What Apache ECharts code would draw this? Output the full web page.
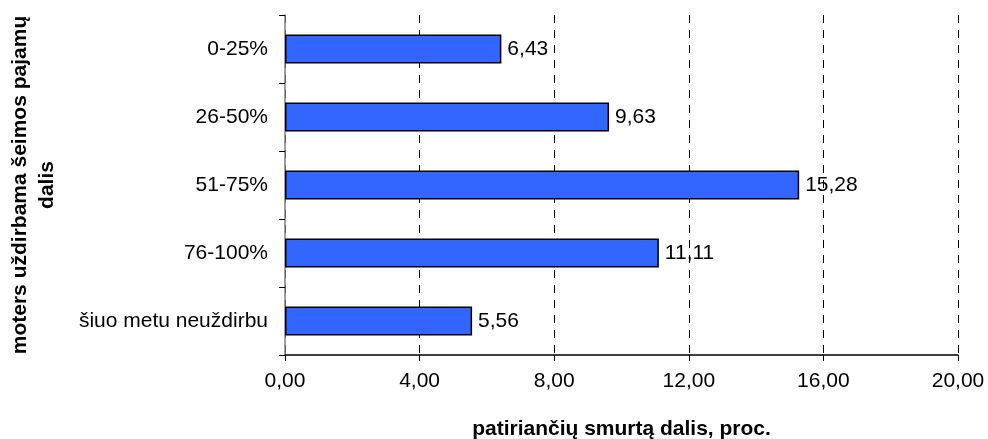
<!DOCTYPE html>
<html>
<head>
<meta charset="utf-8">
<script src="https://cdn.jsdelivr.net/npm/echarts@6/dist/echarts.min.js"></script>
<style>
html,body{margin:0;padding:0;background:#fff;}
#chart{width:988px;height:439px;}
</style>
</head>
<body>
<div id="chart"></div>
<script>
const categories = ['0-25%', '26-50%', '51-75%', '76-100%', 'šiuo metu neuždirbu'];
const values = [6.43, 9.63, 15.28, 11.11, 5.56];
const xTitle = 'patiriančių smurtą dalis, proc.';
const yTitle = 'moters uždirbama šeimos pajamų\ndalis';

const fmt = v => v.toFixed(2).replace('.', ',');
const font = 'Liberation Sans, Arial, sans-serif';

const chart = echarts.init(document.getElementById('chart'), null, {renderer: 'canvas'});
chart.setOption({
  animation: false,
  backgroundColor: '#fff',
  textStyle: {fontFamily: font},
  grid: {left: 285, right: 30, top: 15, bottom: 84, containLabel: false, outerBoundsMode: 'none'},
  xAxis: {
    type: 'value',
    min: 0, max: 20, interval: 4,
    axisLine: {show: true, lineStyle: {color: '#000', width: 1.5}},
    axisTick: {show: true, length: 6, lineStyle: {color: '#000'}},
    axisLabel: {color: '#000', fontSize: 21, margin: 16, fontFamily: font, formatter: v => fmt(v)},
    splitLine: {show: true, lineStyle: {color: '#000', type: [8, 7], width: 1}},
    name: xTitle,
    nameLocation: 'middle',
    nameGap: 64,
    nameTextStyle: {color: '#000', fontSize: 21, fontWeight: 'bold', fontFamily: font}
  },
  yAxis: {
    type: 'category',
    inverse: true,
    data: categories,
    axisLine: {show: true, onZero: false, lineStyle: {color: '#808080', width: 1.5}},
    axisTick: {show: true, length: 6, lineStyle: {color: '#000'}},
    axisLabel: {color: '#000', fontSize: 21, margin: 17, fontFamily: font},
    splitLine: {show: false},
    name: yTitle,
    nameLocation: 'middle',
    nameGap: 224,
    nameRotate: 90,
    nameTextStyle: {color: '#000', fontSize: 21, fontWeight: 'bold', fontFamily: font, lineHeight: 27, align: 'center'}
  },
  series: [{
    type: 'bar',
    data: values,
    barWidth: '43%',
    itemStyle: {color: '#3366FF', borderColor: '#000', borderWidth: 1.5},
    label: {
      show: true, position: 'right', distance: 6,
      color: '#000', fontSize: 21, fontFamily: font,
      formatter: p => fmt(p.value)
    }
  }]
});
</script>
</body>
</html>
